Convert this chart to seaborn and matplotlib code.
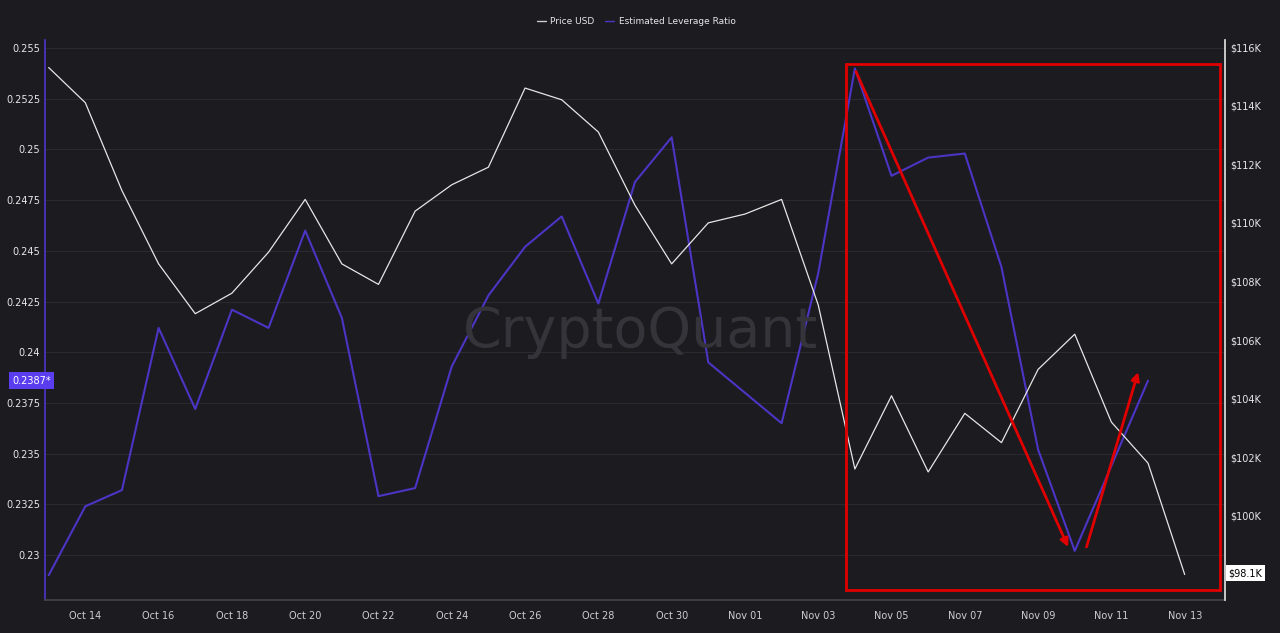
import matplotlib
matplotlib.use('Agg')
import matplotlib.pyplot as plt
import seaborn as sns
import pandas as pd
from matplotlib.patches import Rectangle
from matplotlib.lines import Line2D

sns.set_theme(style='dark')
plt.rcParams['font.family'] = ['DejaVu Sans']

dates = pd.date_range('2024-10-13', '2024-11-13', freq='D')
price = [115.3, 114.1, 111.1, 108.6, 106.9, 107.6, 109.0, 110.8, 108.6, 107.9,
         110.4, 111.3, 111.9, 114.6, 114.2, 113.1, 110.6, 108.6, 110.0, 110.3,
         110.8, 107.2, 101.6, 104.1, 101.5, 103.5, 102.5, 105.0, 106.2, 103.2,
         101.8, 98.0]
leverage = [0.2290, 0.2324, 0.2332, 0.2412, 0.2372, 0.2421, 0.2412, 0.2460, 0.2417, 0.2329,
            0.2333, 0.2393, 0.2428, 0.2452, 0.2467, 0.2424, 0.2484, 0.2506, 0.2395, 0.2380,
            0.2365, 0.2439, 0.2540, 0.2487, 0.2496, 0.2498, 0.2442, 0.2352, 0.2302, 0.2344,
            0.2386]
tick_labels = ['Oct 14', 'Oct 16', 'Oct 18', 'Oct 20', 'Oct 22', 'Oct 24', 'Oct 26', 'Oct 28',
               'Oct 30', 'Nov 01', 'Nov 03', 'Nov 05', 'Nov 07', 'Nov 09', 'Nov 11', 'Nov 13']
left_ticks = [0.23, 0.2325, 0.235, 0.2375, 0.24, 0.2425, 0.245, 0.2475, 0.25, 0.2525, 0.255]
right_ticks = list(range(100, 117, 2))

BG = '#1b1b20'
BLUE = '#4b35c4'
days = list(range(len(dates)))
df_p = pd.DataFrame({'day': days, 'price': price})
df_l = pd.DataFrame({'day': days[:len(leverage)], 'lev': leverage})

fig = plt.figure(figsize=(12.8, 6.33), dpi=100, facecolor=BG)
ax = fig.add_axes([45 / 1280, 33 / 633, 1180 / 1280, 560 / 633])
ax.set_facecolor(BG)
ax2 = ax.twinx()

sns.lineplot(data=df_l, x='day', y='lev', ax=ax, color=BLUE, linewidth=1.5, zorder=3)
sns.lineplot(data=df_p, x='day', y='price', ax=ax2, color='#e6e6e6', linewidth=0.9, zorder=2)

ax.set_xlim(-0.1, 32.1)
ax.set_ylim(0.22778, 0.2554)
ax2.set_ylim(97.13, 116.24)
ax.set_yticks(left_ticks)
ax.set_yticklabels([f'{t:g}' for t in left_ticks], color='#e8e8e8', fontsize=7)
ax2.set_yticks(right_ticks)
ax2.set_yticklabels([f'${t}K' for t in right_ticks], color='#e8e8e8', fontsize=7)
ax.set_xticks(range(1, 32, 2))
ax.set_xticklabels(tick_labels, color='#cfcfcf', fontsize=7)
ax.set_xlabel('')
ax.set_ylabel('')
ax2.set_ylabel('')
ax.grid(axis='y', color='#2a2a30', linewidth=0.8)
ax2.grid(False)
for a in (ax, ax2):
    for s in a.spines.values():
        s.set_visible(False)
    a.tick_params(length=0)
ax.tick_params(axis='x', length=4, color='#555555', pad=4)
ax.spines['left'].set_visible(True)
ax.spines['left'].set_color(BLUE)
ax2.spines['right'].set_visible(True)
ax2.spines['right'].set_color('#dddddd')
ax.spines['bottom'].set_visible(True)
ax.spines['bottom'].set_color('#444444')

# current value tags
y_tag = ax.transData.transform((0, leverage[-1]))[1] / fig.bbox.height
fig.text(12 / 1280, y_tag, '0.2387*', ha='left', va='center', fontsize=7, color='white',
         bbox=dict(boxstyle='square,pad=0.35', fc='#5b3df0', ec='none'))
ax2.text(1.003, price[-1] + 0.05, '$98.1K', transform=ax2.get_yaxis_transform(), ha='left', va='center',
         fontsize=7, color='black', bbox=dict(boxstyle='square,pad=0.3', fc='white', ec='none'))

# watermark
fig.text(0.5, 0.475, 'CryptoQuant', ha='center', va='center', fontsize=40, color='#34343a', zorder=0)

# red highlight
ax2.add_patch(Rectangle((21.77, 97.47), 10.2, 17.95, fill=False, ec='#e00000', lw=2, zorder=5))
ax2.annotate('', xy=(27.85, 98.85), xytext=(22.0, 115.25),
             arrowprops=dict(arrowstyle='-|>', color='#e00000', lw=2, mutation_scale=12))
ax2.annotate('', xy=(29.75, 105.0), xytext=(28.3, 98.85),
             arrowprops=dict(arrowstyle='-|>', color='#e00000', lw=2, mutation_scale=12))

# legend
handles = [Line2D([], [], color='#cccccc', lw=1), Line2D([], [], color=BLUE, lw=1)]
fig.legend(handles, ['Price USD', 'Estimated Leverage Ratio'], loc='center', bbox_to_anchor=(0.497, 0.966),
           ncol=2, frameon=False, fontsize=6.5, labelcolor='#e8e8e8', handlelength=1.0,
           handletextpad=0.5, columnspacing=1.2)

plt.savefig('out.png', dpi=100, facecolor=BG)
